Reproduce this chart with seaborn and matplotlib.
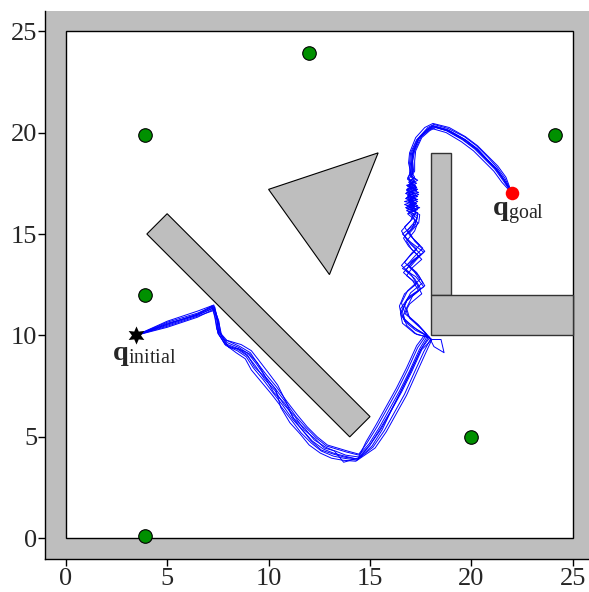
import numpy as np
import pandas as pd
import matplotlib
matplotlib.use("Agg")
import matplotlib.pyplot as plt
from matplotlib.patches import Polygon, Rectangle
import seaborn as sns

# ---------------- data ----------------
landmarks_x = [3.9, 3.9, 3.9, 12.0, 24.1, 20.0]
landmarks_y = [19.9, 12.0, 0.1, 23.9, 19.9, 5.0]
q_initial = (3.45, 10.0)
q_goal = (22.0, 17.0)

bar_diag = [(4, 15), (5, 16), (15, 6), (14, 5)]
triangle = [(10, 17.2), (15.4, 19), (13, 13)]
bar_vert = [(18, 12), (19, 12), (19, 19), (18, 19)]
bar_horz = [(18, 10), (25, 10), (25, 12), (18, 12)]

runA = [(3.45,10.0),(5.0,10.7),(6.5,11.2),(7.3,11.5),
        (7.45,10.85),(7.55,10.2),(7.95,9.75),
        (8.6,9.45),(9.1,9.15),(9.4,8.7),(9.9,8.05),(10.4,7.45),(10.9,6.75),(11.4,6.1),(11.9,5.5),(12.4,5.0),(12.9,4.6),(13.4,4.45),(13.9,4.3),(14.45,4.15),
        (14.85,4.7),(15.35,5.5),(15.85,6.4),(16.35,7.3),(16.85,8.3),(17.35,9.4),(17.8,10.05),
        (17.4,10.5),(16.85,11.0),(16.7,11.5),(17.0,12.1),(17.6,12.6),(17.3,13.1),(16.85,13.5),(17.2,13.9),(17.6,14.3),(17.1,14.8),(16.85,15.2),(17.3,15.7),(17.35,16.05),
        (17.0,16.2),(17.4,16.3),(16.95,16.45),(17.15,16.6),(16.8,16.8),(17.3,16.9),(17.0,17.1),(17.35,17.2),(16.9,17.4),(17.2,17.6),(17.0,17.85),(17.15,18.1),
        (17.1,18.6),(17.15,19.1),(17.45,19.8),(17.85,20.25),(18.15,20.4),(18.85,20.2),(19.65,19.8),(20.25,19.35),(20.8,18.8),(21.25,18.3),(21.65,17.75),(22.0,17.0)]
runB = [(3.45,10.0),(5.0,10.45),(6.5,10.95),(7.35,11.25),
        (7.55,10.7),(7.65,10.0),(8.0,9.45),
        (8.4,9.15),(8.85,8.85),(9.15,8.3),(9.65,7.7),(10.15,7.1),(10.65,6.45),(11.15,5.8),(11.6,5.2),(12.1,4.7),(12.6,4.3),(13.2,4.05),(13.7,3.95),(14.35,3.85),
        (15.15,4.5),(15.7,5.3),(16.2,6.2),(16.7,7.1),(17.15,8.1),(17.65,9.2),(18.0,9.85),
        (17.2,10.1),(16.6,10.6),(16.5,11.1),(16.8,11.7),(17.4,12.2),(17.1,12.7),(16.65,13.1),(17.0,13.5),(17.4,13.9),(16.9,14.4),(16.65,14.8),(17.1,15.3),(17.2,15.7),
        (16.85,16.0),(17.25,16.15),(16.75,16.3),(17.3,16.5),(16.9,16.65),(17.2,16.8),(16.75,17.0),(17.3,17.15),(16.95,17.3),(17.1,17.5),(16.85,17.7),(17.0,18.0),
        (16.95,18.5),(17.0,19.0),(17.3,19.65),(17.75,20.0),(18.05,20.2),(18.75,20.0),(19.5,19.55),(20.1,19.1),(20.65,18.55),(21.1,18.1),(21.5,17.55),(22.0,17.0)]
runC = [(3.45,10.0),(5.0,10.55),(6.5,11.05),(7.25,11.4),
        (7.4,10.75),(7.5,10.1),(7.85,9.6),
        (8.5,9.35),(8.95,9.05),(9.3,8.45),(9.85,7.9),(10.25,7.2),(10.8,6.65),(11.25,5.9),(11.8,5.4),(12.25,4.85),(12.8,4.5),(13.25,4.3),(13.7,3.75),(14.4,3.95),
        (15.0,4.6),(15.55,5.4),(16.05,6.3),(16.55,7.2),(17.05,8.2),(17.55,9.3),(18.05,9.8),(18.5,9.8),(18.65,9.15),(18.15,9.45),(17.9,9.95),
        (17.3,10.3),(16.65,10.8),(16.5,11.3),(16.9,11.9),(17.65,12.4),(17.25,12.9),(16.6,13.3),(17.1,13.7),(17.65,14.1),(17.0,14.6),(16.6,15.0),(17.25,15.5),(17.35,15.9),
        (16.9,16.1),(17.3,16.2),(16.85,16.35),(17.2,16.5),(16.7,16.6),(17.25,16.75),(16.9,16.95),(17.4,17.05),(16.85,17.25),(17.25,17.4),(16.95,17.6),(17.2,17.8),(17.05,18.05),
        (17.05,18.5),(17.1,19.0),(17.4,19.7),(17.8,20.1),(18.1,20.3),(18.8,20.1),(19.6,19.65),(20.2,19.2),(20.75,18.65),(21.2,18.2),(21.6,17.65),(22.0,17.0)]
runD = [(3.45,10.0),(5.0,10.65),(6.5,11.1),(7.3,11.45),
        (7.5,10.8),(7.6,10.15),(7.95,9.65),
        (8.55,9.4),(9.0,9.1),(9.4,8.6),(9.85,7.95),(10.35,7.35),(10.85,6.7),(11.35,6.0),(11.85,5.45),(12.35,4.95),(12.85,4.55),(13.35,4.4),(13.85,4.25),(14.45,4.1),
        (14.95,4.65),(15.45,5.45),(15.95,6.35),(16.45,7.25),(16.95,8.25),(17.45,9.35),(17.85,10.0),
        (17.35,10.55),(16.75,11.05),(16.55,11.6),(16.85,12.2),(17.45,12.75),(17.15,13.2),(16.7,13.6),(17.05,14.05),(17.45,14.45),(16.95,14.95),(16.7,15.35),(17.15,15.8),(17.25,16.1),
        (16.95,16.3),(17.35,16.4),(16.9,16.6),(17.3,16.7),(16.85,16.9),(17.2,17.0),(16.8,17.2),(17.3,17.3),(16.95,17.5),(17.25,17.7),(17.0,17.9),(17.1,18.1),
        (17.1,18.6),(17.2,19.1),(17.5,19.75),(17.9,20.15),(18.2,20.3),(18.9,20.1),(19.7,19.65),(20.3,19.2),(20.8,18.65),(21.25,18.2),(21.6,17.7),(22.0,17.0)]
runE = [(3.45,10.0),(5.0,10.5),(6.5,11.0),(7.3,11.35),
        (7.45,10.75),(7.55,10.05),(7.9,9.5),
        (8.45,9.25),(8.9,8.95),(9.25,8.4),(9.75,7.8),(10.2,7.2),(10.7,6.55),(11.2,5.85),(11.7,5.3),(12.15,4.8),(12.7,4.4),(13.2,4.2),(13.75,4.05),(14.4,3.9),
        (15.1,4.55),(15.6,5.35),(16.0,6.2),(16.45,7.1),(16.95,8.15),(17.5,9.3),(17.95,9.9),
        (17.3,10.05),(16.8,10.5),(16.65,11.0),(16.95,11.55),(17.55,12.05),(17.3,12.55),(16.8,12.95),(17.1,13.35),(17.55,13.75),(17.05,14.25),(16.8,14.65),(17.2,15.15),(17.35,15.55),(17.05,15.9),
        (17.3,16.05),(16.8,16.25),(17.2,16.4),(16.9,16.55),(17.35,16.7),(16.85,16.85),(17.15,17.0),(16.8,17.15),(17.25,17.35),(16.9,17.55),(17.15,17.75),(16.95,18.0),
        (17.0,18.5),(17.05,19.0),(17.35,19.7),(17.75,20.1),(18.05,20.3),(18.75,20.1),(19.55,19.65),(20.15,19.2),(20.7,18.65),(21.15,18.2),(21.55,17.65),(22.0,17.0)]
runF = [(3.45,10.0),(5.0,10.55),(6.5,11.05),(7.2,11.45),
        (7.35,10.9),(7.45,10.3),(7.8,9.8),
        (8.65,9.55),(9.15,9.25),(9.5,8.8),(10.0,8.15),(10.45,7.55),(10.85,6.75),(11.2,5.95),(11.65,5.35),(12.1,4.8),(12.6,4.35),(13.2,4.15),(13.75,4.0),(14.4,3.9),
        (14.8,4.75),(15.3,5.6),(15.8,6.5),(16.3,7.4),(16.8,8.4),(17.3,9.5),(17.75,10.1),
        (17.45,10.4),(16.95,10.85),(16.8,11.35),(17.1,11.95),(17.7,12.45),(17.4,12.95),(16.95,13.35),(17.3,13.75),(17.7,14.15),(17.2,14.65),(16.95,15.05),(17.4,15.55),(17.45,15.95),
        (17.1,16.15),(17.45,16.3),(17.0,16.45),(17.35,16.6),(16.95,16.75),(17.4,16.95),(17.0,17.1),(17.3,17.3),(16.95,17.45),(17.35,17.65),(17.05,17.85),(17.2,18.1),
        (17.2,18.6),(17.25,19.1),(17.55,19.75),(17.95,20.1),(18.25,20.25),(18.95,20.05),(19.75,19.6),(20.35,19.1),(20.85,18.55),(21.3,18.1),(21.65,17.6),(22.0,17.0)]
runG = [(3.45,10.0),(5.0,10.4),(6.5,10.9),(7.3,11.3),
        (7.55,10.6),(7.7,9.95),(8.05,9.4),
        (8.5,9.35),(9.05,9.1),(9.45,8.65),(9.85,7.95),(10.35,7.35),(10.6,6.45),(11.05,5.7),(11.55,5.15),(12.0,4.6),(12.55,4.2),(13.1,3.95),(13.65,3.85),(14.3,3.8),
        (15.25,4.45),(15.8,5.25),(16.3,6.15),(16.8,7.05),(17.25,8.05),(17.75,9.15),(18.05,9.8),
        (17.15,10.4),(16.55,10.95),(16.45,11.45),(16.7,12.05),(17.3,12.55),(17.0,13.05),(16.55,13.45),(16.9,13.85),(17.3,14.25),(16.8,14.75),(16.55,15.15),(17.0,15.65),(17.15,16.0),
        (16.8,16.15),(17.2,16.3),(16.7,16.45),(17.1,16.6),(16.75,16.75),(17.2,16.9),(16.8,17.05),(17.15,17.25),(16.8,17.4),(17.2,17.55),(16.85,17.75),(17.0,18.05),
        (16.9,18.5),(16.95,19.0),(17.25,19.75),(17.7,20.25),(18.1,20.45),(18.9,20.25),(19.7,19.8),(20.3,19.35),(20.85,18.8),(21.3,18.35),(21.7,17.8),(22.0,17.0)]
runH = [(3.45,10.0),(5.0,10.6),(6.5,11.0),(7.35,11.4),
        (7.5,10.7),(7.5,10.15),(7.85,9.55),
        (8.5,9.3),(8.95,9.0),(9.35,8.5),(9.8,7.85),(10.3,7.3),(10.75,6.6),(11.3,6.0),(11.75,5.35),(12.3,4.9),(12.75,4.45),(13.3,4.3),(13.8,4.1),(14.5,4.0),
        (15.0,4.6),(15.5,5.4),(16.0,6.25),(16.5,7.2),(17.0,8.2),(17.5,9.3),(17.9,9.95),
        (17.25,10.25),(16.7,10.7),(16.6,11.2),(16.85,11.8),(17.5,12.3),(17.2,12.8),(16.75,13.2),(17.05,13.6),(17.5,14.0),(17.0,14.5),(16.7,14.9),(17.2,15.4),(17.3,15.8),
        (16.9,16.05),(17.35,16.2),(16.8,16.4),(17.25,16.55),(16.9,16.7),(17.35,16.85),(16.9,17.0),(17.25,17.2),(16.85,17.35),(17.3,17.5),(16.9,17.7),(17.1,17.95),
        (17.05,18.45),(17.1,18.95),(17.4,19.7),(17.8,20.15),(18.1,20.35),(18.8,20.15),(19.6,19.7),(20.2,19.25),(20.75,18.7),(21.2,18.25),(21.6,17.7),(22.0,17.0)]
runs = [runA, runB, runC, runD, runE, runF, runG, runH]

tick_values = [0, 5, 10, 15, 20, 25]

# ---------------- style ----------------
sns.set_style("ticks")
plt.rcParams["font.family"] = ["Liberation Serif", "DejaVu Serif"]
plt.rcParams["mathtext.fontset"] = "custom"
plt.rcParams["mathtext.rm"] = "Liberation Serif"
plt.rcParams["mathtext.it"] = "Liberation Serif:italic"
plt.rcParams["mathtext.bf"] = "Liberation Serif:bold"

GRAY = "#bebebe"

fig = plt.figure(figsize=(5.89, 5.92), dpi=100)
ax = fig.add_axes([0.0771, 0.0564, 0.930, 0.9253])
ax.set_facecolor(GRAY)
ax.set_xlim(-1, 26)
ax.set_ylim(-1, 26)

# free space
ax.add_patch(Rectangle((0, 0), 25, 25, facecolor="white", edgecolor="black", lw=1.0, zorder=1))
# obstacles
for poly in [bar_diag, triangle]:
    ax.add_patch(Polygon(poly, closed=True, facecolor=GRAY, edgecolor="black", lw=0.8, zorder=2))
for poly in [bar_vert, bar_horz]:
    ax.add_patch(Polygon(poly, closed=True, facecolor=GRAY, edgecolor="#333333", lw=1.0, zorder=2))

# trajectories
rows = []
for r, pts in enumerate(runs):
    for i, (x, y) in enumerate(pts):
        rows.append({"run": r, "step": i, "x": x, "y": y})
traj = pd.DataFrame(rows)
sns.lineplot(data=traj, x="x", y="y", units="run", estimator=None, sort=False,
             color="#0000ff", lw=0.7, ax=ax, zorder=3, legend=False)

# landmarks
lm = pd.DataFrame({"x": landmarks_x, "y": landmarks_y})
sns.scatterplot(data=lm, x="x", y="y", color="#009000", edgecolor="black",
                linewidth=0.8, s=95, ax=ax, zorder=4, legend=False)

# start / goal
ax.scatter([q_initial[0]], [q_initial[1]], marker=(6, 1, 0), s=170, color="black",
           zorder=5, linewidths=0)
ax.scatter([q_goal[0]], [q_goal[1]], marker="o", s=95, color="#ff0000",
           zorder=5, linewidths=0)

ax.text(3.85, 9.0, r"$\mathbf{q}_{\mathrm{initial}}$", fontsize=20.5,
        ha="center", va="center", zorder=6)
ax.text(22.3, 16.0, r"$\mathbf{q}_{\mathrm{goal}}$", fontsize=20.5,
        ha="center", va="center", zorder=6)

ax.set_xticks(tick_values)
ax.set_yticks(tick_values)
ax.set_xticklabels([str(v) for v in tick_values])
ax.set_yticklabels([str(v) for v in tick_values])
ax.tick_params(axis="both", labelsize=19, length=5, width=1, color="black",
               direction="out")
ax.tick_params(axis="y", pad=1)
ax.tick_params(axis="x", pad=2)
ax.set_xlabel("")
ax.set_ylabel("")
for side in ["top", "right"]:
    ax.spines[side].set_visible(False)
for side in ["left", "bottom"]:
    ax.spines[side].set_color("black")
    ax.spines[side].set_linewidth(1.0)

fig.savefig("out.png", dpi=100)
